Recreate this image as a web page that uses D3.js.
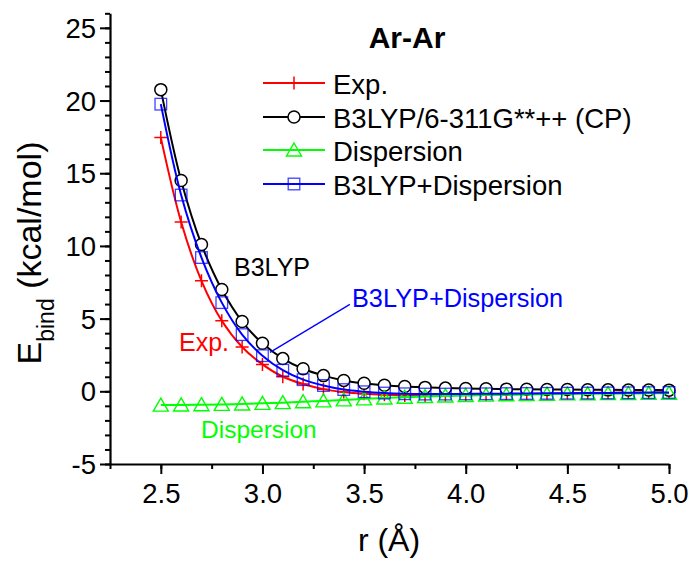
<!DOCTYPE html>
<html><head><meta charset="utf-8">
<script src="https://cdn.jsdelivr.net/npm/d3@7"></script>
<style>body{margin:0;background:#fff}svg{display:block}text{font-family:"Liberation Sans",Arial,sans-serif}</style>
</head><body>
<svg id="c" width="692" height="563"></svg>
<script>
const rValues = [2.5,2.6,2.7,2.8,2.9,3.0,3.1,3.2,3.3,3.4,3.5,3.6,3.7,3.8,3.9,4.0,4.1,4.2,4.3,4.4,4.5,4.6,4.7,4.8,4.9,5.0];
const expValues = [17.45,11.65,7.6,4.85,3.05,1.85,1.0,0.5,0.15,-0.05,-0.17,-0.24,-0.28,-0.28,-0.27,-0.25,-0.22,-0.2,-0.18,-0.16,-0.14,-0.12,-0.1,-0.09,-0.08,-0.07];
const b3lypValues = [20.75,14.5,10.1,7.0,4.8,3.3,2.25,1.55,1.08,0.75,0.55,0.42,0.33,0.27,0.22,0.19,0.17,0.15,0.14,0.13,0.12,0.11,0.1,0.09,0.09,0.08];
const dispValues = [-0.95,-0.94,-0.92,-0.9,-0.87,-0.83,-0.78,-0.72,-0.66,-0.59,-0.52,-0.46,-0.41,-0.36,-0.32,-0.29,-0.26,-0.24,-0.22,-0.2,-0.18,-0.17,-0.16,-0.15,-0.14,-0.13];
const b3lypDispValues = [19.75,13.5,9.2,6.1,3.9,2.45,1.45,0.8,0.4,0.12,-0.03,-0.12,-0.17,-0.19,-0.19,-0.18,-0.17,-0.16,-0.15,-0.14,-0.13,-0.12,-0.11,-0.1,-0.09,-0.08];
const seriesNames = ["Exp.","B3LYP/6-311G**++ (CP)","Dispersion","B3LYP+Dispersion"];
const seriesColors = ["#ff0000","#000000","#00ff00","#0000ff"];
const seriesSymbols = ["plus","circle","triangle","square"];
const xTicks = [2.5,3.0,3.5,4.0,4.5,5.0];
const yTicks = [-5,0,5,10,15,20,25];
const title = "Ar-Ar";

const svg = d3.select("#c");
const x = d3.scaleLinear().domain([2.25,5.0]).range([110,669]);
const y = d3.scaleLinear().domain([-5,26]).range([464,13.3]);

// minor ticks
const xMinor = d3.range(2.25,5.001,0.25);
const yMinor = d3.range(-5,26.5,1);
svg.append("g").attr("transform","translate(0,464)")
  .call(d3.axisBottom(x).tickValues(xMinor).tickSize(5).tickFormat("").tickSizeOuter(0))
  .call(g=>g.select(".domain").remove())
  .call(g=>g.selectAll("line").attr("stroke-width",2));
svg.append("g").attr("transform","translate(110,0)")
  .call(d3.axisLeft(y).tickValues(yMinor).tickSize(5).tickFormat("").tickSizeOuter(0))
  .call(g=>g.select(".domain").remove())
  .call(g=>g.selectAll("line").attr("stroke-width",2));

const xa = svg.append("g").attr("transform","translate(0,464)")
  .call(d3.axisBottom(x).tickValues(xTicks).tickSize(10).tickPadding(9).tickSizeOuter(0).tickFormat(d3.format(".1f")));
xa.select(".domain").attr("stroke-width",2.2);
xa.selectAll("line").attr("stroke-width",2);
xa.selectAll("text").attr("font-size",27.5).attr("font-family","Liberation Sans, Arial, sans-serif");

const ya = svg.append("g").attr("transform","translate(110,0)")
  .call(d3.axisLeft(y).tickValues(yTicks).tickSize(10).tickPadding(4).tickSizeOuter(0).tickFormat(d=>String(d)));
ya.select(".domain").attr("stroke-width",2.2);
ya.selectAll("line").attr("stroke-width",2);
ya.selectAll("text").attr("font-size",27.5).attr("dy","0.35em").attr("font-family","Liberation Sans, Arial, sans-serif");

// series
const allSeries = [expValues,b3lypValues,dispValues,b3lypDispValues];
const line = d3.line().x((d,i)=>x(rValues[i])).y(d=>y(d)).curve(d3.curveCatmullRom.alpha(0.5));

function drawSymbol(g, type, cx, cy, color){
  if(type==="plus"){
    g.append("path").attr("d",`M${cx-6.5},${cy}H${cx+6.5}M${cx},${cy-6.5}V${cy+6.5}`).attr("stroke",color).attr("stroke-width",1.5).attr("fill","none");
  } else if(type==="circle"){
    g.append("circle").attr("cx",cx).attr("cy",cy).attr("r",6).attr("fill","#fff").attr("stroke",color).attr("stroke-width",1.5);
  } else if(type==="triangle"){
    g.append("path").attr("d",`M${cx},${cy-7}L${cx+7.5},${cy+6}L${cx-7.5},${cy+6}Z`).attr("fill","none").attr("stroke",color).attr("stroke-width",1.4);
  } else if(type==="square"){
    g.append("rect").attr("x",cx-5.8).attr("y",cy-5.8).attr("width",11.6).attr("height",11.6).attr("fill","none").attr("stroke",color).attr("stroke-width",1.3).attr("stroke-opacity",0.75);
  }
}

allSeries.forEach((vals,si)=>{
  const g = svg.append("g");
  g.append("path").datum(vals).attr("d",line).attr("fill","none").attr("stroke",seriesColors[si]).attr("stroke-width",2);
  vals.forEach((v,i)=>drawSymbol(g,seriesSymbols[si],x(rValues[i]),y(v),seriesColors[si]));
});

// legend
const legY = [83,117,150,184];
seriesNames.forEach((name,i)=>{
  const g = svg.append("g");
  g.append("line").attr("x1",263).attr("x2",325).attr("y1",legY[i]).attr("y2",legY[i]).attr("stroke",seriesColors[i]).attr("stroke-width",2);
  drawSymbol(g,seriesSymbols[i],294,legY[i],seriesColors[i]);
  g.append("text").attr("x",333).attr("y",legY[i]+11).attr("font-size",27.5).text(name);
});

// title
svg.append("text").attr("x",407).attr("y",48).attr("text-anchor","middle").attr("font-size",30).attr("font-weight","bold").text(title);

// axis titles
svg.append("text").attr("x",389).attr("y",551).attr("text-anchor","middle").attr("font-size",32).text("r (Å)");
const yl = svg.append("text").attr("transform","translate(41,253) rotate(-90)").attr("text-anchor","middle").attr("font-size",34);
yl.append("tspan").text("E");
yl.append("tspan").attr("font-size",23).attr("dy",13).text("bind");
yl.append("tspan").attr("dy",-13).text(" (kcal/mol)");

// annotations
svg.append("text").attr("x",234).attr("y",276).attr("font-size",25).attr("fill","#000").text("B3LYP");
svg.append("text").attr("x",179).attr("y",351).attr("font-size",25).attr("fill","#ff0000").text("Exp.");
svg.append("text").attr("x",201).attr("y",438).attr("font-size",24.5).attr("fill","#00ff00").text("Dispersion");
svg.append("text").attr("x",352).attr("y",307).attr("font-size",25.3).attr("fill","#0000ff").text("B3LYP+Dispersion");
svg.append("line").attr("x1",x(3.037)).attr("y1",y(2.68)).attr("x2",x(3.43)).attr("y2",y(5.98)).attr("stroke","#0000ff").attr("stroke-width",1.3);
</script>
</body></html>
